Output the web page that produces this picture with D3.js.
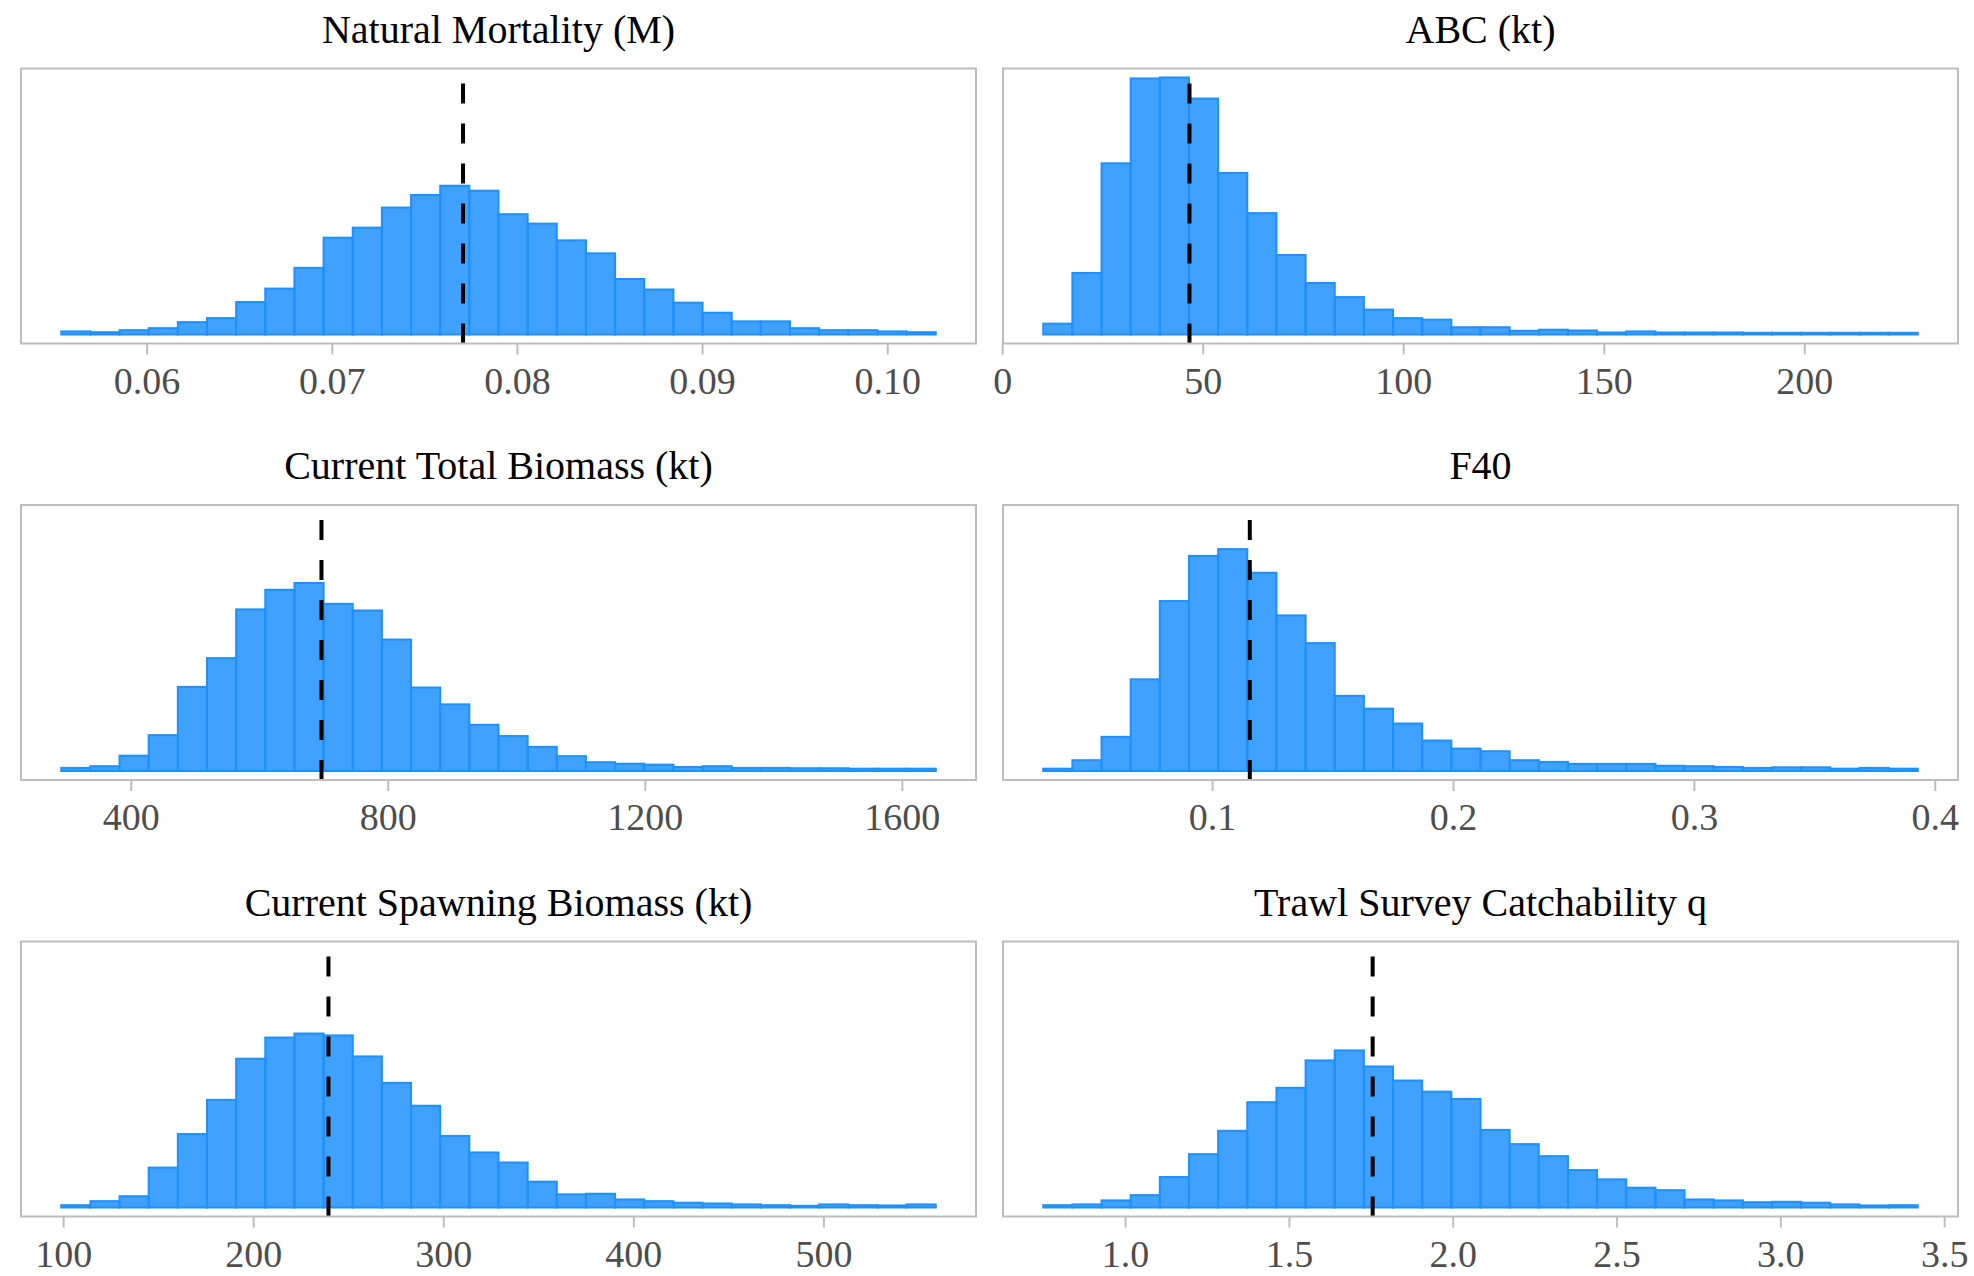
<!DOCTYPE html>
<html>
<head>
<meta charset="utf-8">
<script src="https://cdn.jsdelivr.net/npm/d3@7"></script>
<style>
    html, body { margin: 0; padding: 0; background: #fff; }
    svg { display: block; }
</style>
</head>
<body>
<div id="chart"></div>
<script>
// panel titles, in facet order (left to right, top to bottom)
const titles = [
    "Natural Mortality (M)",
    "ABC (kt)",
    "Current Total Biomass (kt)",
    "F40",
    "Current Spawning Biomass (kt)",
    "Trawl Survey Catchability q"
]

// histogram counts, 30 bins per panel
const countsM = [20, 15, 28, 41, 80, 106, 210, 297, 431, 626, 691, 821, 902, 962, 930,
    778, 717, 609, 525, 359, 291, 206, 141, 85, 85, 41, 28, 28, 20, 15]
const countsABC = [70, 398, 1107, 1656, 1662, 1526, 1045, 785, 514, 333, 242, 161, 106, 96, 47,
    47, 24, 31, 26, 13, 20, 13, 13, 13, 11, 11, 11, 11, 11, 11]
const countsTotal = [20, 31, 99, 232, 544, 730, 1045, 1172, 1216, 1081, 1038, 850, 540, 431, 299,
    226, 156, 96, 57, 47, 41, 26, 31, 20, 20, 18, 18, 15, 15, 15]
const countsF40 = [15, 70, 221, 593, 1099, 1391, 1435, 1282, 1006, 827, 486, 403, 307, 197, 145,
    128, 70, 59, 46, 46, 46, 34, 31, 26, 20, 24, 24, 15, 20, 15]
const countsSpawn = [15, 41, 73, 258, 475, 696, 962, 1099, 1125, 1113, 977, 806, 658, 463, 356,
    291, 167, 85, 89, 52, 41, 31, 26, 20, 15, 11, 20, 15, 13, 20]
const countsQ = [15, 20, 46, 80, 197, 345, 496, 681, 774, 951, 1016, 912, 821, 749, 702,
    502, 410, 332, 242, 182, 128, 112, 52, 46, 34, 37, 31, 20, 13, 15]

// lower and upper edge of the binned range
const binRanges = [
    [0.05539, 0.10262],
    [10.23, 228.3],
    [291.8, 1652.8],
    [0.02991, 0.39294],
    [99.0, 559.1],
    [0.7502, 3.4194]
]

// dashed reference line (point estimate)
const estimates = [0.07709, 46.7, 696.8, 0.11566, 239.6, 1.7557]

const tickValues = [
    [0.06, 0.07, 0.08, 0.09, 0.10],
    [0, 50, 100, 150, 200],
    [400, 800, 1200, 1600],
    [0.1, 0.2, 0.3, 0.4],
    [100, 200, 300, 400, 500],
    [1.0, 1.5, 2.0, 2.5, 3.0, 3.5]
]
const tickFormats = [".2f", "d", "d", ".1f", "d", ".1f"]

const allCounts = [countsM, countsABC, countsTotal, countsF40, countsSpawn, countsQ]

const
    svgWidth = 1974,
    svgHeight = 1276

const colX = [21, 1003]
const rowY = [68.5, 505, 941.5]
const panelW = 955
const panelH = 275

const font = "'Liberation Serif', 'Times New Roman', serif"
const barBlue = "#1E90FF"
const borderGray = "#BDBDBD"

const svg = d3.select("#chart")
    .append("svg")
    .attr("width", svgWidth)
    .attr("height", svgHeight)

svg.append("rect")
    .attr("width", svgWidth)
    .attr("height", svgHeight)
    .attr("fill", "#fff")

// y scale is shared by all facets
const yMax = d3.max(allCounts, c => d3.max(c))
const yScale = d3.scaleLinear()
    .domain([-0.035 * yMax, 1.035 * yMax])
    .range([panelH, 0])

titles.forEach((title, i) => {
    const counts = allCounts[i]
    const [lo, hi] = binRanges[i]
    const pad = 0.046 * (hi - lo)
    const binW = (hi - lo) / counts.length

    const xScale = d3.scaleLinear()
        .domain([lo - pad, hi + pad])
        .range([0, panelW])

    const g = svg.append("g")
        .attr("transform", `translate(${colX[i % 2]}, ${rowY[Math.floor(i / 2)]})`)

    // title
    g.append("text")
        .attr("x", panelW / 2)
        .attr("y", -26)
        .attr("text-anchor", "middle")
        .attr("font-family", font)
        .attr("font-size", 40)
        .attr("fill", "#000")
        .text(title)

    // bars
    const bins = counts.map((c, j) => ({x0: lo + j * binW, x1: lo + (j + 1) * binW, n: c}))
    g.selectAll(".bar")
        .data(bins)
        .enter()
        .append("rect")
        .attr("class", "bar")
        .attr("x", d => xScale(d.x0))
        .attr("width", d => xScale(d.x1) - xScale(d.x0))
        .attr("y", d => yScale(d.n))
        .attr("height", d => yScale(0) - yScale(d.n))
        .attr("fill", barBlue)
        .attr("fill-opacity", 0.85)
        .attr("stroke", barBlue)
        .attr("stroke-width", 2)

    // dashed estimate line, drawn from the bottom up
    g.append("line")
        .attr("x1", xScale(estimates[i]))
        .attr("x2", xScale(estimates[i]))
        .attr("y1", panelH)
        .attr("y2", 0)
        .attr("stroke", "#000")
        .attr("stroke-width", 4)
        .attr("stroke-dasharray", "20,20")

    // panel border
    g.append("rect")
        .attr("width", panelW)
        .attr("height", panelH)
        .attr("fill", "none")
        .attr("stroke", borderGray)
        .attr("stroke-width", 2)

    // x axis
    const xAxis = d3.axisBottom(xScale)
        .tickValues(tickValues[i])
        .tickFormat(d3.format(tickFormats[i]))
        .tickSize(11)
        .tickSizeOuter(0)

    const ax = g.append("g")
        .attr("transform", `translate(0, ${panelH})`)
        .call(xAxis)

    ax.select(".domain").remove()
    ax.selectAll(".tick line")
        .attr("stroke", borderGray)
        .attr("stroke-width", 2)
    ax.selectAll(".tick text")
        .attr("y", 50)
        .attr("dy", null)
        .attr("font-family", font)
        .attr("font-size", 38)
        .attr("fill", "#4D4D4D")
})
</script>
</body>
</html>
